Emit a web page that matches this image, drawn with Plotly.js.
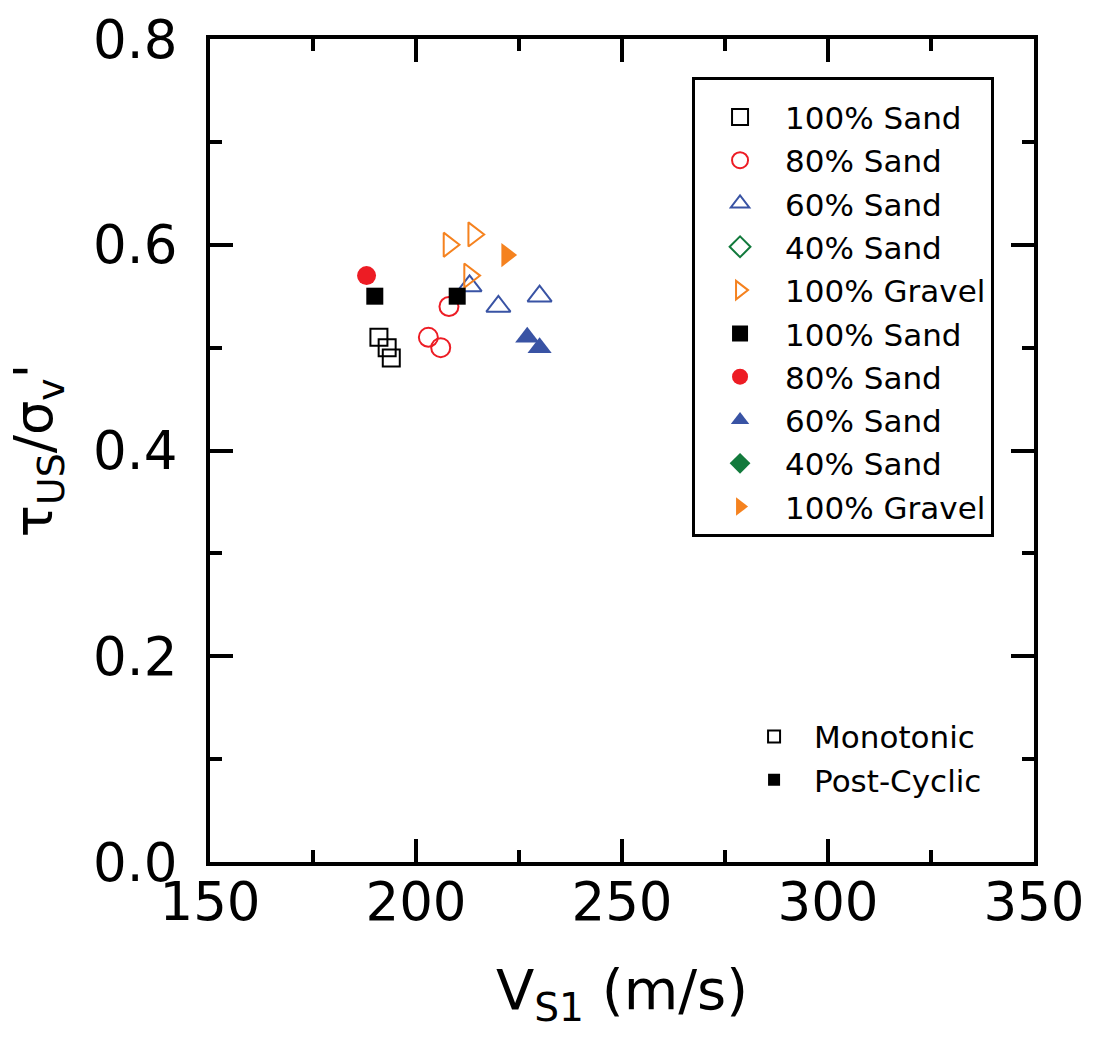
<!DOCTYPE html>
<html>
<head>
<meta charset="utf-8">
<script src="https://cdn.plot.ly/plotly-3.0.1.min.js"></script>
<style>html,body{margin:0;padding:0;background:#fff;}#chart{width:1099px;height:1046px;}</style>
</head>
<body>
<div id="chart"></div>
<script>
// Monotonic (open markers)
const monoSand100X = [191, 193, 194];
const monoSand100Y = [0.51, 0.50, 0.49];
const monoSand80X = [208, 203, 206];
const monoSand80Y = [0.54, 0.51, 0.50];
const monoSand60X = [213, 220, 230];
const monoSand60Y = [0.56, 0.54, 0.55];
const monoSand40X = [null];
const monoSand40Y = [null];
const monoGravelX = [208, 214, 213];
const monoGravelY = [0.60, 0.61, 0.57];
// Post-cyclic (filled markers)
const pcSand100X = [190, 210];
const pcSand100Y = [0.55, 0.55];
const pcSand80X = [188];
const pcSand80Y = [0.57];
const pcSand60X = [227, 230];
const pcSand60Y = [0.51, 0.50];
const pcSand40X = [null];
const pcSand40Y = [null];
const pcGravelX = [222];
const pcGravelY = [0.59];

const seriesNames = ['100% Sand', '80% Sand', '60% Sand', '40% Sand', '100% Gravel'];
const typeNames = ['Monotonic', 'Post-Cyclic'];

const colors = ['#000000', '#ed1c24', '#3953a4', '#127a3c', '#f5821f'];
const symbols = ['square', 'circle', 'triangle-up', 'diamond', 'triangle-right'];
const sizes = [17, 19, 21, 19, 21];

const monoX = [monoSand100X, monoSand80X, monoSand60X, monoSand40X, monoGravelX];
const monoY = [monoSand100Y, monoSand80Y, monoSand60Y, monoSand40Y, monoGravelY];
const pcX = [pcSand100X, pcSand80X, pcSand60X, pcSand40X, pcGravelX];
const pcY = [pcSand100Y, pcSand80Y, pcSand60Y, pcSand40Y, pcGravelY];

const traces = [];
for (let i = 0; i < 5; i++) {
  traces.push({
    type: 'scatter', mode: 'markers', name: seriesNames[i],
    x: monoX[i], y: monoY[i], cliponaxis: false,
    marker: {symbol: symbols[i] + '-open', size: sizes[i], color: colors[i], line: {width: 2, color: colors[i]}}
  });
}
for (let i = 0; i < 5; i++) {
  traces.push({
    type: 'scatter', mode: 'markers', name: seriesNames[i],
    x: pcX[i], y: pcY[i], cliponaxis: false,
    marker: {symbol: symbols[i], size: sizes[i], color: colors[i], line: {width: 0}}
  });
}
traces.push({type: 'scatter', mode: 'markers', name: typeNames[0], x: [null], y: [null], legend: 'legend2',
  marker: {symbol: 'square-open', size: 12, color: '#000', line: {width: 2, color: '#000'}}});
traces.push({type: 'scatter', mode: 'markers', name: typeNames[1], x: [null], y: [null], legend: 'legend2',
  marker: {symbol: 'square', size: 12, color: '#000'}});

const font = 'DejaVu Sans, Verdana, sans-serif';
const axisCommon = {
  showline: true, linewidth: 4, linecolor: '#000', mirror: 'ticks',
  ticks: 'inside', ticklen: 23, tickwidth: 4, tickcolor: '#000',
  showgrid: false, zeroline: false,
  tickfont: {family: font, size: 53, color: '#000'}
};

const layout = {
  width: 1099, height: 1046,
  margin: {l: 210, r: 65, t: 39, b: 184},
  paper_bgcolor: '#fff', plot_bgcolor: '#fff',
  font: {family: font, color: '#000'},
  xaxis: Object.assign({}, axisCommon, {
    range: [150, 350], dtick: 50, tick0: 150,
    minor: {ticks: 'inside', dtick: 25, ticklen: 12, tickwidth: 4, tickcolor: '#000'},
    ticklabelstandoff: -10,
    title: {text: 'V<sub>S1</sub> (m/s)', font: {family: font, size: 56, color: '#000'}, standoff: 40}
  }),
  yaxis: Object.assign({}, axisCommon, {
    range: [0, 0.8], dtick: 0.2, tick0: 0, tickformat: '.1f',
    minor: {ticks: 'inside', dtick: 0.1, ticklen: 12, tickwidth: 4, tickcolor: '#000'},
    ticklabelstandoff: 18,
    title: {text: 'τ<sub>US</sub>/σ<sub>v</sub>\'', font: {family: font, size: 54, color: '#000'}, standoff: 24}
  }),
  showlegend: true,
  legend: {
    x: 0.585, y: 0.954, xanchor: 'left', yanchor: 'top',
    bgcolor: '#fff', bordercolor: '#000', borderwidth: 3,
    font: {family: font, size: 31, color: '#000'},
    itemwidth: 80,
    tracegroupgap: 0,
    title: {text: ' ', font: {size: 8}}
  },
  legend2: {
    x: 0.636, y: 0.185, xanchor: 'left', yanchor: 'top',
    bgcolor: 'rgba(0,0,0,0)', borderwidth: 0,
    itemwidth: 70,
    font: {family: font, size: 31, color: '#000'}
  }
};

Plotly.newPlot('chart', traces, layout, {displayModeBar: false, staticPlot: true});
</script>
</body>
</html>
